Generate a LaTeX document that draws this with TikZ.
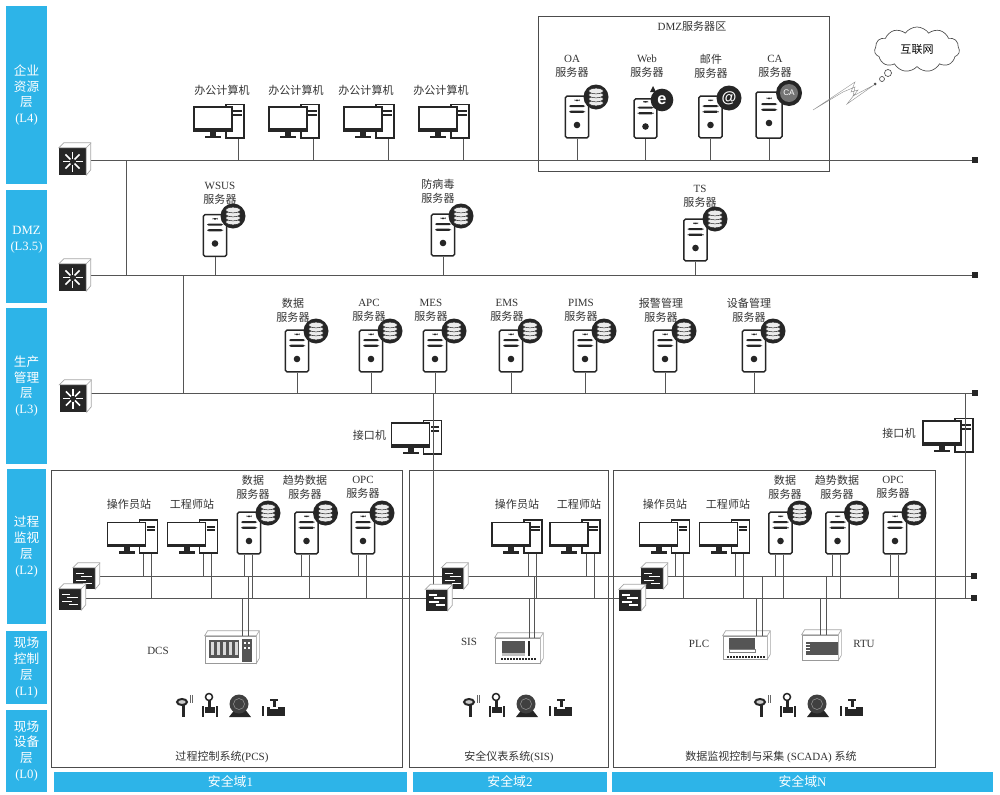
\documentclass[tikz,border=0pt]{standalone}
\usepackage{fontspec}
\setmainfont{Liberation Serif}
\newfontfamily\cjk{Noto Sans CJK SC}
\newfontfamily\icofont{Liberation Sans}
\usetikzlibrary{shapes, positioning}

\definecolor{barblue}{HTML}{2DB4E8}
\definecolor{ink}{HTML}{262626}
\definecolor{wire}{HTML}{555555}
\definecolor{panel}{HTML}{555555}

\newcommand{\zh}[1]{{\cjk #1}}
% node between two corners, in picture units
\newcommand{\region}[7]{\node[#1, minimum width={(#5-#3)*0.3mm}, minimum height={(#6-#4)*0.3mm}] (#2) at ({(#3+#5)/2},{(#4+#6)/2}) {#7};}
% desktop computer: tower is the named node
\newcommand{\pcunit}[3]{
    \node[pctower] (#1) at (#2,#3) {};
    \fill[ink] ({#2-25},{#3+10}) rectangle ({#2-19},{#3+15});
    \fill[ink] ({#2-30},{#3+14.5}) rectangle ({#2-14},{#3+17});
    \node[pcscreen] (#1-scr) at ({#2-22},{#3-2}) {};
}
\newcommand{\coreunit}[3]{
    \node[coresw] (#1) at (#2,#3) {};
    \draw[swskin] (#1.north west) -- ++(5,-5) -- ++(27,0) -- ++(0,27) -- (#1.south east) -- (#1.north east) -- cycle;
    \draw[swskin] (#1.north east) -- ++(5,-5);
}
\newcommand{\edgeunit}[3]{
    \node[edgesw] (#1) at (#2,#3) {};
    \draw[swskin] (#1.north west) -- ++(5,-5) -- ++(22,0) -- ++(0,21) -- (#1.south east) -- (#1.north east) -- cycle;
    \draw[swskin] (#1.north east) -- ++(5,-5);
}
\newcommand{\cabunit}[6]{
    \region{#1}{#2}{#3}{#4}{#5}{#6}{}
    \draw[cabskin] (#2.north west) -- ++(3,-5) -- ([shift={(3,-5)}]#2.north east) -- ([shift={(3,-5)}]#2.south east) -- (#2.south east) -- (#2.north east) -- cycle;
    \draw[cabskin] (#2.north east) -- ++(3,-5);
}
% two network legs, one to each control bus
\newcommand{\duallegs}[1]{
    \draw[leg] ([xshift=-1.5mm]#1.south) -- ([xshift=-1.5mm]#1.south |- endU);
    \draw[leg] ([xshift=0.9mm]#1.south) -- ([xshift=0.9mm]#1.south |- endL);
}

\begin{document}
\begin{tikzpicture}[
        x=0.3mm, y=-0.3mm,
        lbl/.style={font=\fontsize{9.4}{11.9}\selectfont, text=black!80, inner sep=0pt, align=center},
        layerbar/.style={fill=barblue, text=white, inner sep=0pt, outer sep=0pt, align=center, font=\fontsize{10.8}{13.6}\selectfont},
        domainbar/.style={fill=barblue, text=white, inner sep=0pt, outer sep=0pt, font=\fontsize{11}{13}\selectfont},
        zonebox/.style={draw=black!70, line width=0.3mm, inner sep=0pt, outer sep=0pt},
        bus/.style={draw=wire, line width=0.3mm},
        leg/.style={draw=wire, line width=0.25mm},
        busend/.style={fill=ink, minimum size=1.9mm, inner sep=0pt},
        srvbox/.style={draw=ink, line width=0.45mm, fill=white, rounded corners=0.5mm, minimum width=7mm, minimum height=12.5mm, inner sep=0pt,
            path picture={
                \begin{scope}[shift={(path picture bounding box.center)}]
                    \fill[ink] (-2.5,-17.5) rectangle (2.5,-16);
                    \fill[ink] (-8,-12) rectangle (8,-9.8);
                    \fill[ink] (-8,-6.4) rectangle (8,-4.2);
                    \fill[ink] (0,8) circle (3.3);
                \end{scope}
            }},
        badge/.style={circle, fill=ink, minimum size=7.5mm, inner sep=0pt},
        dbbadge/.style={badge,
            path picture={
                \begin{scope}[shift={(path picture bounding box.center)}]
                    \foreach \h in {6,2,-2,-6}
                        \draw[fill=black!8, draw=ink, line width=0.15mm] (0,\h) ellipse [x radius=2.15mm, y radius=0.85mm];
                \end{scope}
            }},
        cabadge/.style={badge,
            path picture={
                \fill[black!55] (path picture bounding box.center) circle (9);
            }},
        pctower/.style={draw=ink, line width=0.5mm, fill=white, minimum width=5.4mm, minimum height=10mm, inner sep=0pt,
            path picture={
                \begin{scope}[shift={(path picture bounding box.center)}]
                    \fill[ink] (-2,-11) rectangle (6.5,-9);
                    \fill[ink] (-2,-7.5) rectangle (6.5,-5.5);
                \end{scope}
            }},
        pcscreen/.style={draw=ink, line width=0.35mm, fill=white, minimum width=11.4mm, minimum height=7.2mm, inner sep=0pt,
            path picture={
                \fill[ink] (path picture bounding box.south west) rectangle ([yshift=0.8mm]path picture bounding box.south east);
            }},
        coresw/.style={fill=ink, minimum width=8.1mm, minimum height=8.1mm, inner sep=0pt,
            path picture={
                \begin{scope}[shift={(path picture bounding box.center)}]
                    \foreach \a in {0,45,...,315}
                        \draw[white, line width=0.5mm] (\a:3) -- (\a:10);
                \end{scope}
            }},
        edgesw/.style={fill=ink, minimum width=6.6mm, minimum height=6.3mm, inner sep=0pt,
            path picture={
                \begin{scope}[shift={(path picture bounding box.center)}]
                    \draw[white, line width=0.45mm] (-8,-5) -- (0,-5);
                    \draw[white, line width=0.45mm] (-3,-2) -- (8,-2);
                    \draw[white, line width=0.45mm] (-8,2) -- (2,2);
                    \draw[white, line width=0.45mm] (-1,5) -- (8,5);
                \end{scope}
            }},
        swskin/.style={draw=black!35, fill=white, line width=0.2mm},
        cabskin/.style={draw=black!35, fill=white, line width=0.2mm},
        cabnode/.style={draw=black!40, fill=white, line width=0.2mm, inner sep=0pt},
        dcsbox/.style={cabnode,
            path picture={
                \begin{scope}[shift={(path picture bounding box.center)}]
                    \fill[panel] (-21.5,-9.5) rectangle (8.5,8.5);
                    \foreach \s in {-19.5,-13.5,-7.5,-1.5,4.5}
                        \fill[black!15] (\s,-7.5) rectangle ++(3,13);
                    \fill[panel] (11.5,-10.5) rectangle (21.5,12);
                    \foreach \s in {13.5,17.5}
                        \foreach \t in {-8,-3}
                            \fill[white] (\s,\t) rectangle ++(2,2);
                \end{scope}
            }},
        sisbox/.style={cabnode,
            path picture={
                \begin{scope}[shift={(path picture bounding box.center)}]
                    \fill[panel] (-15.5,-9.5) rectangle (7.5,2.5);
                    \fill[black!25] (-15.5,2.5) rectangle (7.5,5);
                    \fill[ink] (10,-9.5) rectangle (12,5.5);
                    \foreach \s in {-17,-14,...,17}
                        \fill[ink] (\s,7.5) rectangle ++(2,2);
                \end{scope}
            }},
        plcbox/.style={cabnode,
            path picture={
                \begin{scope}[shift={(path picture bounding box.center)}]
                    \fill[panel] (-16,-9.5) rectangle (10,1.5);
                    \draw[black!50, line width=0.15mm] (-16,1.5) rectangle (10,5);
                    \foreach \s in {-18,-15,...,18}
                        \fill[ink] (\s,8) rectangle ++(2,2);
                \end{scope}
            }},
        rtubox/.style={cabnode,
            path picture={
                \begin{scope}[shift={(path picture bounding box.center)}]
                    \fill[panel] (-14,-6) rectangle (18,7);
                    \foreach \t in {-3,0,3}
                        \draw[white, line width=0.12mm] (-14,\t) -- (-10,\t);
                \end{scope}
            }},
        fieldset/.pic={
            % gauge
            \draw[ink, line width=0.6mm, fill=black!20] (0,0) ellipse [x radius=1.5mm, y radius=0.9mm];
            \fill[ink] (0,3) rectangle (2.5,15);
            \draw[black!60, line width=0.15mm] (8,-7) -- (8,1) (10,-7) -- (10,1);
            % flow meter
            \draw[ink, line width=0.45mm, fill=white] (27,-5) circle (3.5);
            \fill[ink] (25.5,-2) rectangle (28.5,6);
            \fill[ink] (23,5) rectangle (33,11);
            \fill[ink] (20,4) rectangle (22,15);
            \fill[ink] (34,4) rectangle (36,15);
            % pump
            \fill[ink] (47,15) -- (69,15) -- (62,6) -- (54,6) -- cycle;
            \fill[black!75] (57,2) circle (9.5);
            \draw[black!40, line width=0.15mm] (57,2) circle (5.5);
            % valve
            \fill[ink] (80,4) rectangle (82,14);
            \fill[ink] (85,5) rectangle (103,14);
            \fill[ink] (88,-3) rectangle (96,-1);
            \fill[ink] (90.5,-1) rectangle (93.5,5);
            \fill[white] (88,5) rectangle (96,7);
        }
    ]
    \useasboundingbox (0,0) rectangle (1000,795);

    % Layer bars
    \region{layerbar}{layfour}{6}{6}{47}{184}{\zh{企业}\\\zh{资源}\\\zh{层}\\(L4)}
    \region{layerbar}{laydmz}{6}{190}{47}{303}{DMZ\\(L3.5)\\\mbox{}}
    \region{layerbar}{laythree}{6}{308}{47}{464}{\zh{生产}\\\zh{管理}\\\zh{层}\\(L3)}
    \region{layerbar}{laytwo}{7}{469}{46}{624}{\zh{过程}\\\zh{监视}\\\zh{层}\\(L2)}
    \region{layerbar}{layone}{6}{631}{47}{704}{\zh{现场}\\\zh{控制}\\\zh{层}\\(L1)}
    \region{layerbar}{layzero}{6}{710}{47}{792}{\zh{现场}\\\zh{设备}\\\zh{层}\\(L0)}

    % Security domains
    \region{domainbar}{domone}{54}{772}{407}{792}{\zh{安全域}1}
    \region{domainbar}{domtwo}{413}{772}{607}{792}{\zh{安全域}2}
    \region{domainbar}{domn}{612}{772}{993}{792}{\zh{安全域}N}

    % Zones
    \region{zonebox}{dmzzone}{538}{16}{829}{171}{}
    \region{zonebox}{pcszone}{51}{470}{402}{767}{}
    \region{zonebox}{siszone}{409}{470}{608}{767}{}
    \region{zonebox}{scadazone}{613}{470}{935}{767}{}
    \node[lbl] (dmzlbl) at (692,26) {DMZ\zh{服务器区}};
    \node[lbl] (pcslbl) at (222,757) {\zh{过程控制系统}(PCS)};
    \node[lbl] (sislbl) at (509,757) {\zh{安全仪表系统}(SIS)};
    \node[lbl] (scadalbl) at (771,757) {\zh{数据监视控制与采集} (SCADA) \zh{系统}};

    % Bus ends
    \node[busend] (endA) at (975,160) {};
    \node[busend] (endB) at (975,275) {};
    \node[busend] (endC) at (975,393) {};
    \node[busend] (endU) at (974,576) {};
    \node[busend] (endL) at (974,598) {};

    % Main buses
    \draw[bus] (90,160) -- (endA);
    \draw[bus] (90,275) -- (endB);
    \draw[bus] (90,393) -- (endC);
    \draw[bus] (98,576) -- (endU);
    \draw[bus] (84,598) -- (endL);
    \coordinate (tapA) at (126,160);
    \coordinate (tapB) at (183,275);
    \draw[bus] (tapA) -- (tapA |- endB);
    \draw[bus] (tapB) -- (tapB |- endC);

    % Office computers
    \foreach \nm/\cx/\lx in {officea/235/222, officeb/310/296, officec/385/366, officed/460/441} {
        \pcunit{\nm}{\cx}{121}
        \node[lbl] (\nm-lbl) at (\lx,90) {\zh{办公计算机}};
        \draw[leg] ([xshift=0.9mm]\nm.south) -- ([xshift=0.9mm]\nm.south |- endA);
    }

    % DMZ server area
    \foreach \nm/\cx/\cy/\lx/\ly/\lbltext/\mw/\mh in {
        oasrv/577/117/572/66.5/OA/7/12.5,
        websrv/645.5/118.5/647/66.5/Web/6.8/11.8,
        mailsrv/710.5/117/711/66.5/\zh{邮件}/7/12.5,
        casrv/769/115/775/66.5/CA/7.8/13.8} {
        \node[srvbox, minimum width=\mw mm, minimum height=\mh mm] (\nm) at (\cx,\cy) {};
        \node[lbl] (\nm-lbl) at (\lx,\ly) {\lbltext\\\zh{服务器}};
        \draw[leg] (\nm.south) -- (\nm.south |- endA);
    }
    \node[dbbadge] (oasrv-db) at (596,97) {};
    \fill[ink] (650,92) -- (653,86) -- (656,92) -- cycle;
    \node[badge, minimum size=6.8mm, text=white, font=\icofont\bfseries\fontsize{14}{14}\selectfont] (websrv-ie) at (662,100) {e};
    \node[badge, text=white, font=\icofont\bfseries\fontsize{13}{13}\selectfont] (mailsrv-at) at (729,98) {@};
    \node[cabadge, minimum size=7.8mm, text=white, font=\icofont\fontsize{7}{7}\selectfont] (casrv-gear) at (789,93) {CA};

    % Internet
    \node[cloud, cloud puffs=11, cloud puff arc=110, aspect=1.9, draw=black!70, line width=0.2mm, inner sep=0pt, minimum width=25.5mm, minimum height=13.5mm, font=\fontsize{9.4}{11.9}\selectfont] (inet) at (917,49.5) {\zh{互联网}};
    \draw[black!70, line width=0.2mm] (888,73) circle (3.5);
    \draw[black!70, line width=0.2mm] (882,79) circle (2.5);
    \fill[black!70] (875,84) circle (1.5);
    \draw[black!45, line width=0.12mm] (813,110) -- (855,82) -- (851,92) -- (858,90) -- (847,104) -- (874,85) -- (853,96) -- (855,87) -- (843,92) -- cycle;

    % DMZ layer servers
    \foreach \nm/\cx/\cy/\bx/\by/\lx/\ly/\lbltext in {
        wsussrv/215/235.5/233/216/220/193/WSUS,
        avsrv/443/235/461/216/438/191.5/\zh{防病毒},
        tssrv/695.5/240/715/219/700/196.5/TS} {
        \node[srvbox] (\nm) at (\cx,\cy) {};
        \node[dbbadge] (\nm-db) at (\bx,\by) {};
        \node[lbl] (\nm-lbl) at (\lx,\ly) {\lbltext\\\zh{服务器}};
        \draw[leg] (\nm.south) -- (\nm.south |- endB);
    }

    % Production servers
    \foreach \nm/\cx/\lx/\lbltext in {
        datasrv/297/293/\zh{数据},
        apcsrv/371/369/APC,
        messrv/435/431/MES,
        emssrv/511/507/EMS,
        pimssrv/585/581/PIMS,
        alarmsrv/665/661/\zh{报警管理},
        assetsrv/754/749/\zh{设备管理}} {
        \node[srvbox] (\nm) at (\cx,351) {};
        \node[dbbadge] (\nm-db) at (\cx+19,331) {};
        \node[lbl] (\nm-lbl) at (\lx,310) {\lbltext\\\zh{服务器}};
        \draw[leg] (\nm.south) -- (\nm.south |- endC);
    }

    % Interface machines
    \pcunit{ifa}{432.5}{437}
    \pcunit{ifb}{964}{435}
    \node[lbl, left=1.4mm of ifa-scr.west] (ifa-lbl) {\zh{接口机}};
    \node[lbl, left=2mm of ifb-scr.west] (ifb-lbl) {\zh{接口机}};
    \coordinate (mestap) at (433,393);
    \coordinate (ifbtap) at (965,393);
    \draw[bus] (mestap) -- (mestap |- endL);
    \draw[bus] (ifbtap) -- (ifbtap |- endL);

    % Stations
    \foreach \nm/\cx/\lx/\lbltext in {
        pcsop/148.5/129/\zh{操作员站},
        pcseng/208.5/192/\zh{工程师站},
        sisop/533/517/\zh{操作员站},
        siseng/591/579/\zh{工程师站},
        scadaop/680.5/665/\zh{操作员站},
        scadaeng/740.5/728/\zh{工程师站}} {
        \pcunit{\nm}{\cx}{536.5}
        \node[lbl] (\nm-lbl) at (\lx,504) {\lbltext};
        \duallegs{\nm}
    }

    % Control zone servers
    \foreach \nm/\cx/\lx/\lbltext in {
        pcsdata/249/253/\zh{数据},
        pcstrend/306.5/305/\zh{趋势数据},
        pcsopc/363/363/OPC,
        scadadata/780.5/785/\zh{数据},
        scadatrend/837.5/837/\zh{趋势数据},
        scadaopc/895/893/OPC} {
        \node[srvbox] (\nm) at (\cx,533) {};
        \node[dbbadge] (\nm-db) at (\cx+19,513) {};
        \node[lbl] (\nm-lbl) at (\lx,487) {\lbltext\\\zh{服务器}};
        \duallegs{\nm}
    }

    % Switches
    \coreunit{corea}{72.5}{161.5}
    \coreunit{coreb}{72.5}{277.5}
    \coreunit{corec}{73}{398.5}
    \edgeunit{pcsback}{84}{578.5}
    \edgeunit{pcsfront}{70}{599.5}
    \edgeunit{sisback}{452.5}{578.5}
    \edgeunit{sisfront}{436.5}{600}
    \edgeunit{scadaback}{652}{578.5}
    \edgeunit{scadafront}{630}{600}

    % Controllers
    \cabunit{dcsbox}{dcs}{205}{636}{256}{663}
    \cabunit{sisbox}{sis}{495}{638}{540}{663}
    \cabunit{plcbox}{plc}{723}{636}{767}{659}
    \cabunit{rtubox}{rtu}{802}{635}{838}{660}
    \draw[leg] ([xshift=3.45mm]dcs.north) -- ([xshift=3.45mm]dcs.north |- endL);
    \draw[leg] ([xshift=5.25mm]dcs.north) -- ([xshift=5.25mm]dcs.north |- endU);
    \draw[leg] ([xshift=3.45mm]sis.north) -- ([xshift=3.45mm]sis.north |- endL);
    \draw[leg] ([xshift=4.95mm]sis.north) -- ([xshift=4.95mm]sis.north |- endU);
    \draw[leg] ([xshift=3.3mm]plc.north) -- ([xshift=3.3mm]plc.north |- endL);
    \draw[leg] ([xshift=5.1mm]plc.north) -- ([xshift=5.1mm]plc.north |- endU);
    \draw[leg] (rtu.north) -- (rtu.north |- endL);
    \draw[leg] ([xshift=1.8mm]rtu.north) -- ([xshift=1.8mm]rtu.north |- endU);
    \node[lbl] (dcslbl) at (158,651) {DCS};
    \node[lbl] (sislbl2) at (469,642) {SIS};
    \node[lbl] (plclbl) at (699,644) {PLC};
    \node[lbl] (rtulbl) at (864,644) {RTU};

    % Field instruments
    \pic at (182,702) {fieldset};
    \pic at (469,702) {fieldset};
    \pic at (760,702) {fieldset};

\end{tikzpicture}
\end{document}
